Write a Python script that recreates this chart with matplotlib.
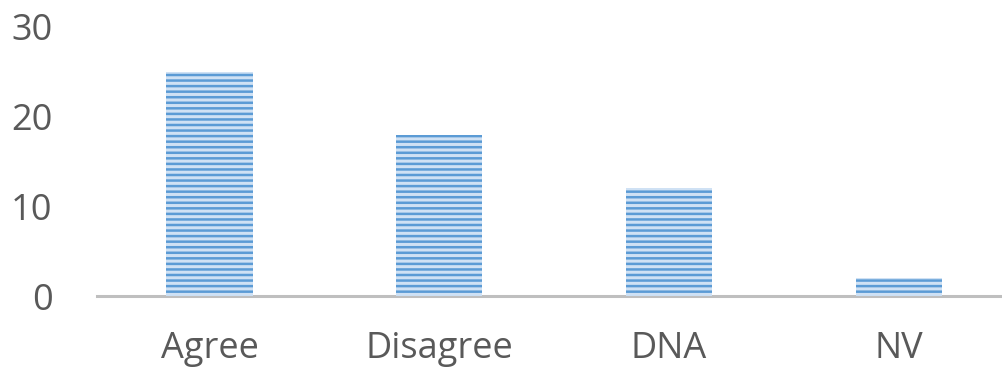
import matplotlib.pyplot as plt

categories = ['Agree', 'Disagree', 'DNA', 'NV']
counts = [25, 18, 12, 2]
yticks = [0, 10, 20, 30]

plt.rcParams['font.family'] = ['Open Sans', 'DejaVu Sans']
plt.rcParams['hatch.linewidth'] = 1.8
plt.rcParams['hatch.color'] = '#5b9bd5'

fig = plt.figure(figsize=(10.02, 3.74), dpi=100)
ax = fig.add_axes([97 / 1002, 78 / 374, 1 - 97 / 1002, 269 / 374])

x = range(len(categories))
ax.bar(x, counts, width=0.375, color='#cfe1f4', edgecolor='#5b9bd5',
       hatch='---', linewidth=0)

ax.set_xlim(-0.49, 3.45)
ax.set_ylim(0, 30)
ax.set_xticks(list(x))
ax.set_xticklabels(categories)
ax.set_yticks(yticks)

for side in ['top', 'right', 'left']:
    ax.spines[side].set_visible(False)
ax.spines['bottom'].set_color('#bfbfbf')
ax.spines['bottom'].set_linewidth(2.2)
ax.spines['bottom'].set_zorder(0)

ax.tick_params(axis='both', length=0, labelsize=26, labelcolor='#595959')
ax.tick_params(axis='y', pad=32)
ax.tick_params(axis='x', pad=25)

fig.savefig('out.png', dpi=100)
